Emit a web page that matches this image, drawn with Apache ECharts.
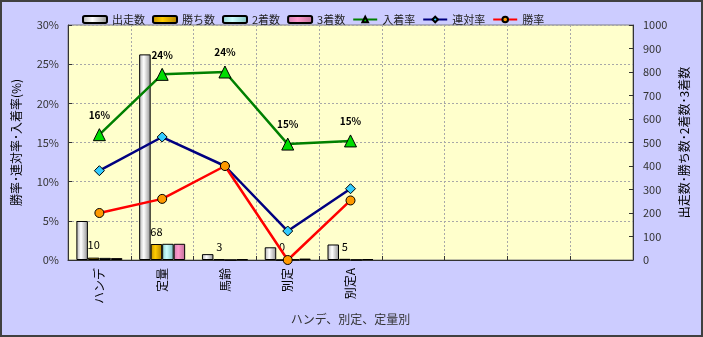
<!DOCTYPE html>
<html>
<head>
<meta charset="utf-8">
<script src="https://cdn.jsdelivr.net/npm/echarts@6/dist/echarts.min.js"></script>
<style>
html,body{margin:0;padding:0;background:#CCCCFF;}
#c{width:703px;height:337px;}
</style>
</head>
<body>
<div id="c"></div>
<script>
var categories = ['ハンデ', '定量', '馬齢', '別定', '別定A', '', '', '', ''];
var starts = [166, 875, 25, 54, 66];
var wins = [10, 68, 3, 0, 5];
var seconds = [9, 69, 0, 2, 1];
var thirds = [8, 69, 3, 6, 4];
var placeRate = [16.0, 23.7, 24.0, 14.8, 15.2];
var quinellaRate = [11.4, 15.7, 12.0, 3.7, 9.1];
var winRate = [6.0, 7.8, 12.0, 0.0, 7.6];
var leftTicks = [0, 5, 10, 15, 20, 25, 30];
var rightTicks = [0, 100, 200, 300, 400, 500, 600, 700, 800, 900, 1000];

var FONT = '"Noto Sans CJK JP", "Noto Sans", sans-serif';
function grad(c1, c2, c3) {
  return new echarts.graphic.LinearGradient(0, 0, 1, 0, [
    {offset: 0, color: c1}, {offset: 0.4, color: c2}, {offset: 1, color: c3}
  ]);
}
var chart = echarts.init(document.getElementById('c'), null, {renderer: 'canvas'});
var barCommon = {
  type: 'bar', yAxisIndex: 1, barWidth: 11.5, barGap: '0%'
};
chart.setOption({
  backgroundColor: '#CCCCFF',
  animation: false,
  textStyle: {fontFamily: FONT},
  graphic: [{
    type: 'rect', shape: {x: 1, y: 1, width: 701, height: 335},
    style: {fill: 'none', stroke: '#404040', lineWidth: 2}, silent: true, z: 100
  }],
  legend: {
    left: 77, top: 9, itemWidth: 24, itemHeight: 7, itemGap: 7,
    textStyle: {fontSize: 11, color: '#222', fontFamily: FONT},
    data: ['出走数', '勝ち数', '2着数', '3着数', '入着率', '連対率', '勝率']
  },
  grid: {
    left: 68, right: 70, top: 25, bottom: 77, show: true,
    backgroundColor: '#FFFFCC', borderColor: '#808080', borderWidth: 1
  },
  xAxis: {
    type: 'category', data: categories,
    name: 'ハンデ、別定、定量別', nameLocation: 'middle', nameGap: 53,
    nameTextStyle: {fontSize: 12, color: '#333', fontFamily: FONT},
    axisLine: {lineStyle: {color: '#333'}},
    axisTick: {show: true, inside: true, length: 4, lineStyle: {color: '#333'}},
    axisLabel: {rotate: 90, margin: 8, fontSize: 12, color: '#000', fontFamily: FONT},
    splitLine: {show: true, lineStyle: {color: '#A8A8A8', type: [2, 2]}}
  },
  yAxis: [{
    type: 'value', min: leftTicks[0], max: leftTicks[leftTicks.length - 1], interval: 5,
    name: '勝率･連対率･入着率(%)', nameLocation: 'middle', nameGap: 46, nameRotate: 90,
    nameTextStyle: {fontSize: 12, color: '#000', fontFamily: FONT},
    axisLine: {show: true, lineStyle: {color: '#333'}},
    axisTick: {show: true, inside: true, length: 4, lineStyle: {color: '#333'}},
    axisLabel: {formatter: '{value}%', fontSize: 11, color: '#333', margin: 9},
    splitLine: {show: true, lineStyle: {color: '#A8A8A8', type: [2, 2]}}
  }, {
    type: 'value', min: rightTicks[0], max: rightTicks[rightTicks.length - 1], interval: 100,
    position: 'right',
    name: '出走数･勝ち数･2着数･3着数', nameLocation: 'middle', nameGap: 44, nameRotate: 90,
    nameTextStyle: {fontSize: 12, color: '#000', fontFamily: FONT},
    axisLine: {show: true, lineStyle: {color: '#333'}},
    axisTick: {show: true, inside: true, length: 4, lineStyle: {color: '#333'}},
    axisLabel: {fontSize: 11, color: '#333', margin: 10,
      formatter: function (v) { return String(v); }},
    splitLine: {show: false}
  }],
  series: [
    Object.assign({}, barCommon, {
      name: '出走数', data: starts,
      itemStyle: {color: grad('#B0B0B0', '#FFFFFF', '#909090'), borderColor: '#000', borderWidth: 1}
    }),
    Object.assign({}, barCommon, {
      name: '勝ち数', data: wins,
      itemStyle: {color: grad('#C09000', '#FFCC00', '#B08000'), borderColor: '#000', borderWidth: 1},
      label: {show: true, position: 'top', distance: 7, fontSize: 11, color: '#000'}
    }),
    Object.assign({}, barCommon, {
      name: '2着数', data: seconds,
      itemStyle: {color: grad('#90D0D0', '#CCFFFF', '#80C0C0'), borderColor: '#000', borderWidth: 1}
    }),
    Object.assign({}, barCommon, {
      name: '3着数', data: thirds,
      itemStyle: {color: grad('#D080B0', '#FF99CC', '#C07098'), borderColor: '#000', borderWidth: 1}
    }),
    {
      name: '入着率', type: 'line', yAxisIndex: 0, data: placeRate,
      symbol: 'triangle', symbolSize: 12,
      lineStyle: {color: '#008000', width: 2.5},
      itemStyle: {color: '#00DD00', borderColor: '#000', borderWidth: 1},
      label: {show: true, position: 'top', distance: 8, fontSize: 10, fontWeight: 'bold', color: '#000',
        formatter: function (p) { return Math.round(p.value) + '%'; }}
    },
    {
      name: '連対率', type: 'line', yAxisIndex: 0, data: quinellaRate,
      symbol: 'diamond', symbolSize: 10,
      lineStyle: {color: '#000080', width: 2.5},
      itemStyle: {color: '#33CCFF', borderColor: '#000', borderWidth: 1}
    },
    {
      name: '勝率', type: 'line', yAxisIndex: 0, data: winRate,
      symbol: 'circle', symbolSize: 9,
      lineStyle: {color: '#FF0000', width: 2.5},
      itemStyle: {color: '#FF9900', borderColor: '#000', borderWidth: 1}
    }
  ]
});
</script>
</body>
</html>
